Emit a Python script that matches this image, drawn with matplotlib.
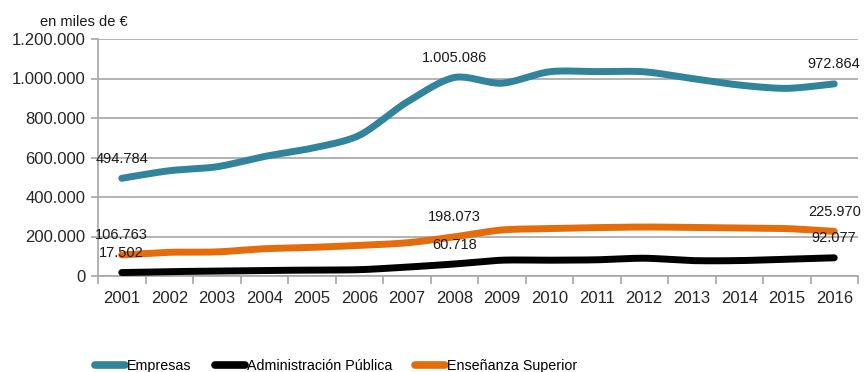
import numpy as np
import matplotlib
matplotlib.use("Agg")
import matplotlib.pyplot as plt
from matplotlib.ticker import FuncFormatter, FixedLocator, NullFormatter
from matplotlib.lines import Line2D
from matplotlib import font_manager

years = ["2001", "2002", "2003", "2004", "2005", "2006", "2007", "2008",
         "2009", "2010", "2011", "2012", "2013", "2014", "2015", "2016"]
empresas = [494784, 533000, 553000, 605000, 647000, 712000, 880000, 1005086,
            976000, 1034000, 1035000, 1034000, 1000000, 967000, 950000, 972864]
admin_publica = [17502, 22000, 25000, 28000, 30000, 32000, 45000, 60718,
                 80000, 80000, 82000, 90000, 78000, 78000, 85000, 92077]
ensenanza = [106763, 120000, 122000, 138000, 145000, 155000, 168000, 198073,
             233000, 240000, 245000, 248000, 246000, 243000, 240000, 225970]
labelled = [0, 7, 15]
series_names = ["Empresas", "Administración Pública", "Enseñanza Superior"]
colors = ["#31849B", "#000000", "#E46C0A"]

names = {f.name for f in font_manager.fontManager.ttflist}
base_font = "Liberation Sans" if "Liberation Sans" in names else "DejaVu Sans"
plt.rcParams["font.family"] = [base_font, "DejaVu Sans"]


def smooth(xs, ys, n=20, k=7.0):
    xs = np.asarray(xs, float)
    ys = np.asarray(ys, float)
    px = np.concatenate([[xs[0]], xs, [xs[-1]]])
    py = np.concatenate([[ys[0]], ys, [ys[-1]]])
    outx, outy = [], []
    t = np.linspace(0, 1, n, endpoint=False)
    for i in range(1, len(px) - 2):
        p0 = np.array([px[i], py[i]])
        p3 = np.array([px[i + 1], py[i + 1]])
        p1 = p0 + (np.array([px[i + 1], py[i + 1]]) - np.array([px[i - 1], py[i - 1]])) / k
        p2 = p3 - (np.array([px[i + 2], py[i + 2]]) - np.array([px[i], py[i]])) / k
        b = ((1 - t) ** 3)[:, None] * p0 + (3 * (1 - t) ** 2 * t)[:, None] * p1 + \
            (3 * (1 - t) * t ** 2)[:, None] * p2 + (t ** 3)[:, None] * p3
        outx.extend(b[:, 0])
        outy.extend(b[:, 1])
    outx.append(xs[-1])
    outy.append(ys[-1])
    return np.array(outx), np.array(outy)


fig = plt.figure(figsize=(8.67, 3.72), dpi=100)
ax = fig.add_axes([98 / 867, 1 - 276 / 372, 760 / 867, 237 / 372])

x = np.arange(len(years))
grid_c = "#A6A6A6"
for vals, col in zip([empresas, admin_publica, ensenanza], colors):
    sx, sy = smooth(x, vals)
    ax.plot(sx, sy, color=col, lw=5.0, solid_capstyle="round", solid_joinstyle="round", zorder=3)

fmt = lambda v: f"{int(round(v)):,}".replace(",", ".")
for vals in [empresas, admin_publica, ensenanza]:
    for i in labelled:
        ax.annotate(fmt(vals[i]), (x[i], vals[i]), xytext=(0, 14), textcoords="offset points",
                    ha="center", va="center", fontsize=10.5, color="#1a1a1a", zorder=4)

ax.set_xlim(-0.5, len(years) - 0.5)
ax.set_ylim(0, 1200000)
ax.yaxis.set_major_locator(FixedLocator(np.arange(0, 1200001, 200000)))
ax.yaxis.set_major_formatter(FuncFormatter(lambda v, p: fmt(v)))
ax.grid(axis="y", color=grid_c, lw=1.2, zorder=0)
ax.set_axisbelow(True)

ax.xaxis.set_major_locator(FixedLocator(np.arange(-0.5, len(years), 1.0)))
ax.xaxis.set_major_formatter(NullFormatter())
ax.xaxis.set_minor_locator(FixedLocator(x))
ax.set_xticklabels(years, minor=True)
ax.tick_params(axis="x", which="major", length=6, width=1.2, color=grid_c, direction="out")
ax.tick_params(axis="x", which="minor", length=0, pad=11, labelsize=12, labelcolor="#262626")
ax.tick_params(axis="y", length=5, width=1.2, color=grid_c, labelsize=12, labelcolor="#262626", pad=4)

for s in ["top", "right"]:
    ax.spines[s].set_visible(False)
for s in ["left", "bottom"]:
    ax.spines[s].set_color(grid_c)
    ax.spines[s].set_linewidth(1.2)

fig.text(40 / 867, 1 - 22 / 372, "en miles de €", fontsize=10.5, color="#1a1a1a",
         ha="left", va="center")

handles = [Line2D([0], [0], color=c, lw=5.5, solid_capstyle="round") for c in colors]
fig.legend(handles, series_names, loc="center left", bbox_to_anchor=(95 / 867, 6 / 372),
           ncol=3, frameon=False, handlelength=2.1, handletextpad=0.15, columnspacing=1.6,
           prop={"family": [base_font], "size": 10.3}, borderpad=0, borderaxespad=0)

fig.savefig("out.png", dpi=100)
